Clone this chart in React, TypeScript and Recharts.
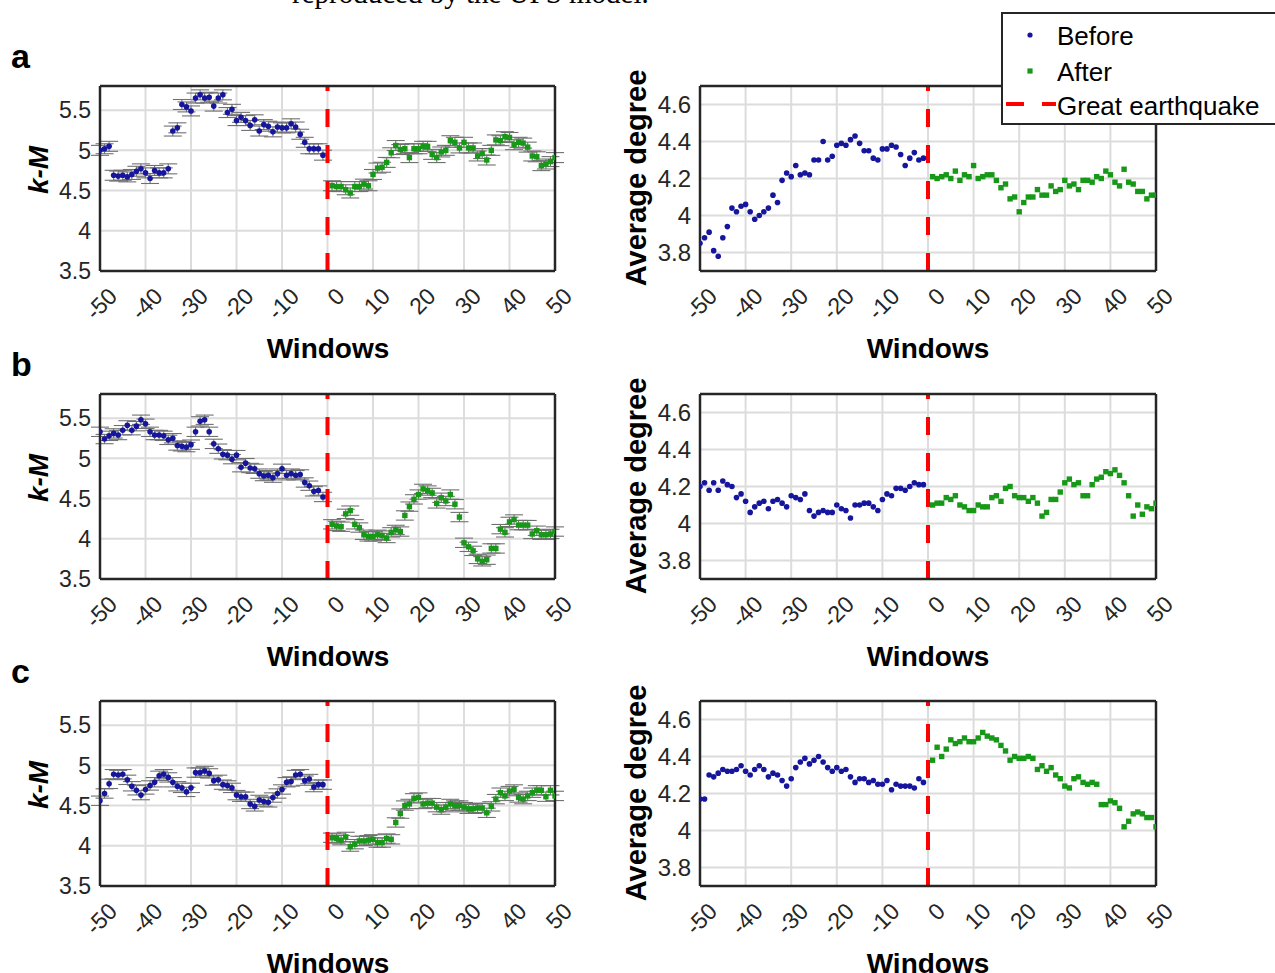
import React from 'react'
import { ScatterChart, Scatter, XAxis, YAxis, CartesianGrid, ReferenceLine, ErrorBar } from 'recharts'

// window indices (x values)
const windowsBefore = [
  -50, -49, -48, -47, -46, -45, -44, -43, -42, -41, -40, -39, -38, -37, -36, -35, -34, -33, -32, -31, -30, -29, -28, -27, -26,
  -25, -24, -23, -22, -21, -20, -19, -18, -17, -16, -15, -14, -13, -12, -11, -10, -9, -8, -7, -6, -5, -4, -3, -2, -1,
]
const windowsAfter = [
  1, 2, 3, 4, 5, 6, 7, 8, 9, 10, 11, 12, 13, 14, 15, 16, 17, 18, 19, 20, 21, 22, 23, 24, 25,
  26, 27, 28, 29, 30, 31, 32, 33, 34, 35, 36, 37, 38, 39, 40, 41, 42, 43, 44, 45, 46, 47, 48, 49, 50,
]
const xTicks = [-50, -40, -30, -20, -10, 0, 10, 20, 30, 40, 50]
const kmTicks = [3.5, 4, 4.5, 5, 5.5]
const degTicks = [3.8, 4, 4.2, 4.4, 4.6]

// panel a
const kmBeforeA = [
  5.0, 5.02, 5.05, 4.69, 4.68, 4.69, 4.67, 4.7, 4.74, 4.77, 4.72, 4.65, 4.75, 4.72, 4.72, 4.77, 5.24, 5.28, 5.57, 5.54, 5.49,
  5.65, 5.69, 5.65, 5.66, 5.55, 5.65, 5.69, 5.47, 5.51, 5.37, 5.41, 5.37, 5.31, 5.38, 5.24, 5.32, 5.3, 5.23, 5.29, 5.28, 5.28,
  5.33, 5.29, 5.2, 5.1, 5.02, 5.02, 5.02, 4.94,
]
const kmAfterA = [
  4.56, 4.55, 4.55, 4.51, 4.47, 4.55, 4.55, 4.58, 4.56, 4.7, 4.78, 4.79, 4.85, 4.97, 5.06, 5.01, 5.02, 4.91, 5.02, 5.02, 5.05,
  5.05, 4.95, 4.91, 4.98, 5.0, 5.12, 5.1, 5.03, 5.1, 5.03, 5.03, 4.93, 4.96, 4.88, 5.0, 5.13, 5.12, 5.17, 5.16, 5.07, 5.1,
  5.09, 5.04, 4.93, 4.92, 4.81, 4.83, 4.86, 4.91,
]
const degBeforeA = [
  3.85, 3.88, 3.91, 3.81, 3.78, 3.88, 3.94, 4.04, 4.02, 4.05, 4.06, 4.02, 3.98, 4.0, 4.02, 4.04, 4.11, 4.07, 4.19, 4.23, 4.21,
  4.27, 4.22, 4.23, 4.22, 4.3, 4.3, 4.4, 4.3, 4.32, 4.38, 4.39, 4.38, 4.41, 4.43, 4.39, 4.35, 4.35, 4.31, 4.3, 4.36, 4.36,
  4.38, 4.37, 4.33, 4.27, 4.31, 4.34, 4.3, 4.31,
]
const degAfterA = [
  4.21, 4.2, 4.21, 4.22, 4.2, 4.24, 4.19, 4.22, 4.21, 4.27, 4.2, 4.21, 4.22, 4.22, 4.19, 4.15, 4.17, 4.09, 4.1, 4.02, 4.07,
  4.1, 4.1, 4.14, 4.11, 4.11, 4.16, 4.13, 4.14, 4.19, 4.16, 4.17, 4.14, 4.19, 4.19, 4.18, 4.21, 4.2, 4.24, 4.22, 4.18, 4.16,
  4.25, 4.18, 4.17, 4.13, 4.13, 4.09, 4.11, 4.11,
]

// panel b
const kmBeforeB = [
  5.33, 5.24, 5.28, 5.31, 5.29, 5.35, 5.41, 5.35, 5.4, 5.48, 5.43, 5.33, 5.29, 5.29, 5.28, 5.23, 5.25, 5.16, 5.15, 5.14, 5.17,
  5.33, 5.46, 5.48, 5.33, 5.18, 5.12, 5.05, 5.04, 4.99, 5.04, 4.89, 4.94, 4.88, 4.87, 4.81, 4.78, 4.79, 4.76, 4.81, 4.87, 4.79,
  4.81, 4.79, 4.8, 4.7, 4.66, 4.59, 4.6, 4.52,
]
const kmAfterB = [
  4.18, 4.16, 4.15, 4.31, 4.35, 4.18, 4.14, 4.05, 4.03, 4.03, 4.05, 4.04, 4.01, 4.08, 4.11, 4.09, 4.29, 4.4, 4.49, 4.55, 4.62,
  4.6, 4.57, 4.44, 4.51, 4.47, 4.55, 4.43, 4.27, 3.95, 3.9, 3.85, 3.75, 3.72, 3.74, 3.88, 3.88, 4.12, 4.08, 4.21, 4.24, 4.17,
  4.17, 4.17, 4.06, 4.1, 4.05, 4.05, 4.06, 4.09,
]
const degBeforeB = [
  4.2, 4.22, 4.18, 4.22, 4.18, 4.23, 4.21, 4.2, 4.14, 4.16, 4.12, 4.06, 4.09, 4.11, 4.12, 4.08, 4.12, 4.13, 4.11, 4.09, 4.15,
  4.14, 4.13, 4.16, 4.07, 4.04, 4.06, 4.07, 4.06, 4.06, 4.1, 4.08, 4.07, 4.03, 4.1, 4.1, 4.11, 4.11, 4.09, 4.07, 4.13, 4.16,
  4.15, 4.19, 4.19, 4.18, 4.2, 4.22, 4.21, 4.21,
]
const degAfterB = [
  4.1, 4.11, 4.11, 4.14, 4.13, 4.15, 4.1, 4.09, 4.07, 4.07, 4.1, 4.09, 4.09, 4.14, 4.15, 4.12, 4.19, 4.2, 4.15, 4.14, 4.14,
  4.12, 4.14, 4.11, 4.04, 4.06, 4.13, 4.13, 4.17, 4.22, 4.24, 4.21, 4.22, 4.15, 4.15, 4.21, 4.24, 4.25, 4.28, 4.27, 4.29, 4.26,
  4.22, 4.15, 4.04, 4.1, 4.05, 4.09, 4.08, 4.11,
]

// panel c
const kmBeforeC = [
  4.56, 4.65, 4.77, 4.89, 4.88, 4.89, 4.82, 4.74, 4.69, 4.63, 4.7, 4.75, 4.79, 4.87, 4.89, 4.85, 4.79, 4.74, 4.72, 4.67, 4.72,
  4.91, 4.91, 4.93, 4.9, 4.81, 4.82, 4.76, 4.75, 4.72, 4.63, 4.61, 4.61, 4.52, 4.49, 4.57, 4.55, 4.54, 4.6, 4.65, 4.7, 4.79,
  4.8, 4.88, 4.89, 4.81, 4.83, 4.73, 4.76, 4.76,
]
const kmAfterC = [
  4.1, 4.09, 4.07, 4.11, 3.99, 4.02, 4.06, 4.06, 4.07, 4.08, 4.04, 4.04, 4.09, 4.08, 4.29, 4.4, 4.5, 4.52, 4.59, 4.6, 4.52,
  4.53, 4.53, 4.48, 4.45, 4.48, 4.52, 4.5, 4.5, 4.48, 4.46, 4.46, 4.47, 4.47, 4.41, 4.49, 4.58, 4.66, 4.62, 4.68, 4.7, 4.6,
  4.58, 4.62, 4.66, 4.69, 4.69, 4.61, 4.69, 4.62,
]
const degBeforeC = [
  4.17, 4.17, 4.3, 4.29, 4.31, 4.33, 4.32, 4.32, 4.33, 4.35, 4.32, 4.3, 4.33, 4.35, 4.33, 4.29, 4.31, 4.3, 4.27, 4.24, 4.28,
  4.34, 4.37, 4.39, 4.36, 4.38, 4.4, 4.37, 4.34, 4.32, 4.34, 4.32, 4.33, 4.29, 4.26, 4.28, 4.28, 4.26, 4.27, 4.25, 4.25, 4.27,
  4.22, 4.25, 4.24, 4.24, 4.24, 4.23, 4.28, 4.26,
]
const degAfterC = [
  4.38, 4.45, 4.4, 4.44, 4.49, 4.47, 4.48, 4.5, 4.48, 4.48, 4.5, 4.53, 4.51, 4.5, 4.49, 4.46, 4.43, 4.38, 4.4, 4.39, 4.39,
  4.4, 4.39, 4.33, 4.35, 4.32, 4.34, 4.3, 4.28, 4.24, 4.23, 4.28, 4.29, 4.26, 4.25, 4.26, 4.25, 4.14, 4.14, 4.16, 4.15, 4.12,
  4.02, 4.05, 4.09, 4.1, 4.09, 4.07, 4.07, 4.02,
]

// half-width of the k-M error bars, per panel
const kmErrA = 0.062
const kmErrB = 0.058
const kmErrC = 0.058

const FONT = '"Liberation Sans", Arial, Helvetica, sans-serif'
const INK = '#262626'
const BLUE = '#16169c'
const GREEN = '#189818'
const PLOT_H = 185
const frame = { stroke: INK, strokeWidth: 2.5 }
const tickStyle = { stroke: INK, strokeWidth: 2 }

const XTick = (props: any) => {
  const { x, y, payload } = props
  const px = x + 13
  const py = y + 19
  return (
    <text x={px} y={py} transform={`rotate(-45 ${px} ${py})`} textAnchor="end" dominantBaseline="central"
      fontSize={23} fontFamily={FONT} fill={INK}>
      {payload.value}
    </text>
  )
}

const Dot = (p: any) => <circle cx={p.cx} cy={p.cy} r={2.8} fill={BLUE} />
const Square = (p: any) => <rect x={p.cx - 2.7} y={p.cy - 2.7} width={5.4} height={5.4} fill={GREEN} />

interface PanelProps {
  left: number
  top: number
  plotW: number
  yDomain: [number, number]
  yTicks: number[]
  fontSize: number
  before: number[]
  after: number[]
  err?: number
}

function Panel({ left, top, plotW, yDomain, yTicks, fontSize, before, after, err }: PanelProps) {
  const YW = 80
  const MT = 6
  const MR = 36
  const XH = 60
  const beforeData = windowsBefore.map((w, i) => ({ w, v: before[i], e: err ?? 0 }))
  const afterData = windowsAfter.map((w, i) => ({ w, v: after[i], e: err ?? 0 }))
  const errBar = err ? <ErrorBar dataKey="e" direction="y" width={9} stroke="#707070" strokeWidth={1.1} /> : null

  return (
    <div style={{ position: 'absolute', left: left - YW, top: top - MT }}>
      <ScatterChart width={YW + plotW + MR} height={MT + PLOT_H + XH} margin={{ top: MT, right: MR, bottom: 0, left: 0 }}>
        <CartesianGrid stroke="#dcdcdc" strokeWidth={2} />
        <XAxis type="number" dataKey="w" domain={[-50, 50]} ticks={xTicks} interval={0} allowDataOverflow
          height={XH} tickLine={false} tickSize={0} tick={<XTick />} axisLine={frame} />
        <XAxis xAxisId="top" orientation="top" mirror type="number" domain={[-50, 50]} ticks={xTicks} interval={0}
          allowDataOverflow tick={false} tickSize={5} tickLine={tickStyle} axisLine={frame} />
        <XAxis xAxisId="in" orientation="bottom" mirror type="number" domain={[-50, 50]} ticks={xTicks} interval={0}
          allowDataOverflow tick={false} tickSize={5} tickLine={tickStyle} axisLine={false} />
        <YAxis type="number" dataKey="v" domain={yDomain} ticks={yTicks} interval={0} allowDataOverflow width={YW}
          tickLine={false} tickSize={0} tickMargin={9} tick={{ fontSize, fill: INK, fontFamily: FONT }} axisLine={frame} />
        <YAxis yAxisId="in" mirror type="number" domain={yDomain} ticks={yTicks} interval={0} allowDataOverflow
          tick={false} tickSize={5} tickLine={tickStyle} axisLine={false} />
        <YAxis yAxisId="right" orientation="right" mirror type="number" domain={yDomain} ticks={yTicks} interval={0}
          allowDataOverflow tick={false} tickSize={5} tickLine={tickStyle} axisLine={frame} />
        <Scatter name="Before" data={beforeData} shape={Dot} isAnimationActive={false}>
          {errBar}
        </Scatter>
        <Scatter name="After" data={afterData} shape={Square} isAnimationActive={false}>
          {errBar}
        </Scatter>
        <ReferenceLine x={0} stroke="#ff0000" strokeWidth={4} strokeDasharray="18 18" />
      </ScatterChart>
    </div>
  )
}

const rowTops = [86, 394, 701]
const rowLetters = ['a', 'b', 'c']
const kmRows = [
  { before: kmBeforeA, after: kmAfterA, err: kmErrA },
  { before: kmBeforeB, after: kmAfterB, err: kmErrB },
  { before: kmBeforeC, after: kmAfterC, err: kmErrC },
]
const degRows = [
  { before: degBeforeA, after: degAfterA },
  { before: degBeforeB, after: degAfterB },
  { before: degBeforeC, after: degAfterC },
]

export default function App() {
  return (
    <div style={{ position: 'absolute', left: 0, top: 0, width: 1275, height: 973, overflow: 'hidden', background: '#fff' }}>
      {rowTops.map((top, r) => (
        <React.Fragment key={r}>
          <Panel left={100} top={top} plotW={455} yDomain={[3.5, 5.8]} yTicks={kmTicks} fontSize={23}
            before={kmRows[r].before} after={kmRows[r].after} err={kmRows[r].err} />
          <Panel left={700} top={top} plotW={456} yDomain={[3.7, 4.7]} yTicks={degTicks} fontSize={24}
            before={degRows[r].before} after={degRows[r].after} />
        </React.Fragment>
      ))}
      <svg width={1275} height={973} style={{ position: 'absolute', left: 0, top: 0, pointerEvents: 'none' }}
        fontFamily={FONT} fill="#000">
        <text x={292} y={3} fontSize={29} fontFamily='"Liberation Serif", "Times New Roman", serif'>
          reproduced by the UPS model.
        </text>
        {rowTops.map((top, r) => (
          <g key={r}>
            <text x={11} y={top - 18} fontSize={34} fontWeight="bold">{rowLetters[r]}</text>
            <text transform={`translate(48 ${top + 84}) rotate(-90)`} textAnchor="middle" fontSize={28}
              fontWeight="bold" fontStyle="italic">k-M</text>
            <text transform={`translate(646 ${top + 92}) rotate(-90)`} textAnchor="middle" fontSize={29}
              fontWeight="bold">Average degree</text>
            <text x={328} y={top + 272} textAnchor="middle" fontSize={28} fontWeight="bold">Windows</text>
            <text x={928} y={top + 272} textAnchor="middle" fontSize={28} fontWeight="bold">Windows</text>
          </g>
        ))}
        <g>
          <rect x={1002} y={13} width={300} height={111} fill="#fff" stroke={INK} strokeWidth={2} />
          <circle cx={1030} cy={35} r={2.6} fill={BLUE} />
          <text x={1057} y={45} fontSize={26}>Before</text>
          <rect x={1027.4} y={68.4} width={5.2} height={5.2} fill={GREEN} />
          <text x={1057} y={80.5} fontSize={26}>After</text>
          <line x1={1006} y1={104} x2={1056} y2={104} stroke="#ff0000" strokeWidth={4} strokeDasharray="18 18" />
          <text x={1057} y={115} fontSize={26}>Great earthquake</text>
        </g>
      </svg>
    </div>
  )
}
